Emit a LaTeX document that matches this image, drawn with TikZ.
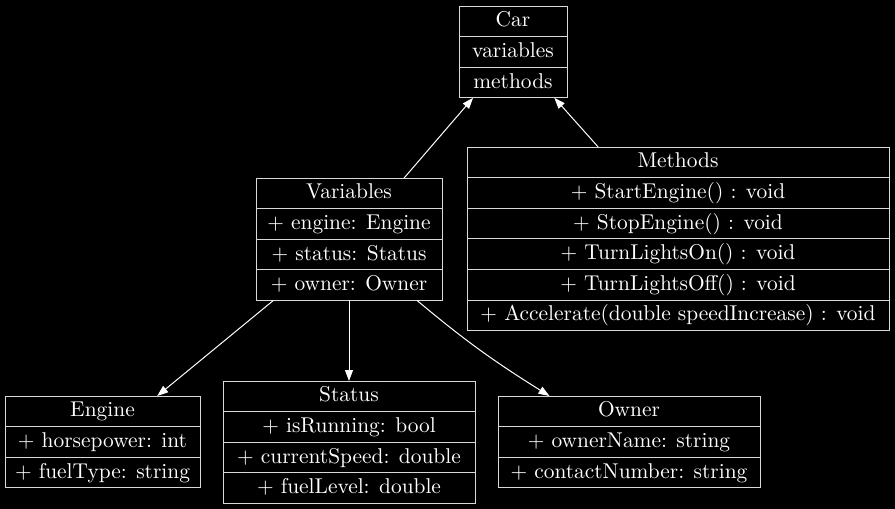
\documentclass[tikz,border=0pt]{standalone}
\usepackage{fontspec}
\setmainfont{lmroman10-regular.otf}
\usetikzlibrary{arrows.meta,fit}
\tikzset{
  row/.style={draw=white!85!black, line width=1pt, text=white, inner sep=0pt, outer sep=0pt,
    minimum height=30.6pt, text height=15.5pt, text depth=4.5pt,
    font=\fontsize{21.4}{26}\selectfont},
  classfit/.style={inner sep=0pt, outer sep=0pt},
  arr/.style={draw=white, line width=1pt, -{Triangle[length=11pt,width=8pt,fill=white]}}
}
\newcommand{\umlclass}[6]{%
  \foreach \txt [count=\i] in {#5} {
    \node[row, minimum width=#4pt] (#1-\i) at (#2, {#3 + (\i-0.5)*30.6}) {\txt};
  }
  \node[classfit, fit=(#1-1)(#1-#6)] (#1) {};
}
\begin{document}
\begin{tikzpicture}[x=1pt, y=-1pt]
\fill[black] (0,0) rectangle (895,509);
\useasboundingbox (0,0) rectangle (895,509);

\umlclass{car}{513}{6}{108}{Car,variables,methods}{3}
\umlclass{vars}{349}{178}{186}{Variables,+ engine: Engine,+ status: Status,+ owner: Owner}{4}
\umlclass{meth}{678}{147}{422}{Methods,+ StartEngine() : void,+ StopEngine() : void,+ TurnLightsOn() : void,+ TurnLightsOff() : void,+ Accelerate(double speedIncrease) : void}{6}
\umlclass{engine}{102.5}{396}{195}{Engine,+ horsepower: int,+ fuelType: string}{3}
\umlclass{status}{349}{381}{252}{Status,+ isRunning: bool,+ currentSpeed: double,+ fuelLevel: double}{4}
\umlclass{owner}{629}{396}{262}{Owner,+ ownerName: string,+ contactNumber: string}{3}

\draw[arr] (vars.48) -- (car.229);
\draw[arr] (meth.131) -- (car.312);
\draw[arr] (vars.219) -- (engine.40);
\draw[arr] (vars.south) -- (status.north);
\draw[arr] (vars.318) to[out=-40,in=148] (owner.150);
\end{tikzpicture}
\end{document}
